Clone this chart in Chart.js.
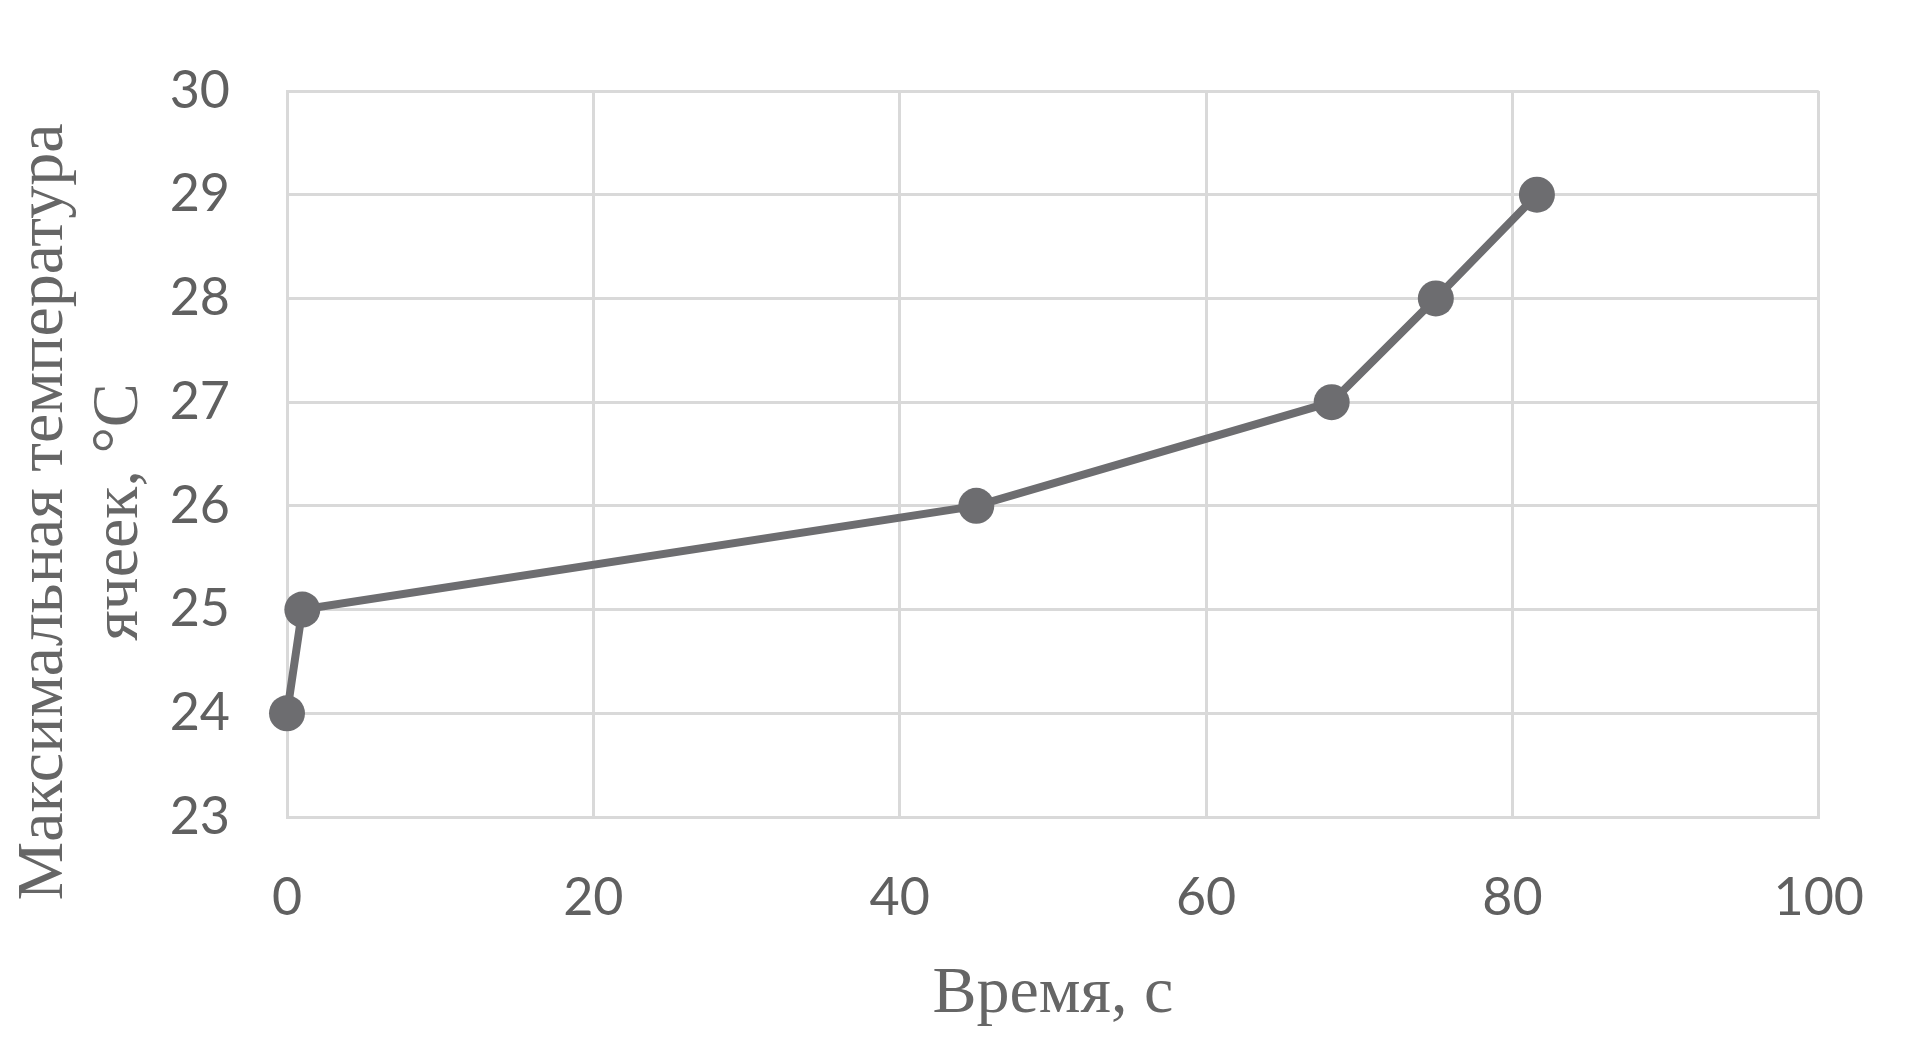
<!DOCTYPE html>
<html>
<head>
<meta charset="utf-8">
<script src="https://cdn.jsdelivr.net/npm/chart.js@4.4.1/dist/chart.umd.min.js"></script>
<style>
html,body{margin:0;padding:0;background:#fff;}
canvas{display:block;}
</style>
</head>
<body>
<canvas id="c" width="1914" height="1064"></canvas>
<script>
// Data
const timeSeconds = [0, 1, 45, 68.2, 75, 81.6];
const maxTemperature = [24, 25, 26, 27, 28, 29];
const xTicks = [0, 20, 40, 60, 80, 100];
const yTicks = [23, 24, 25, 26, 27, 28, 29, 30];
const xTitle = 'Время, с';
const yTitleLines = ['Максимальная температура', 'ячеек, °С'];

const points = timeSeconds.map((t, i) => ({x: t, y: maxTemperature[i]}));

const yTitlePlugin = {
  id: 'yTitle',
  afterDraw(chart) {
    const ctx = chart.ctx;
    ctx.save();
    ctx.fillStyle = '#666666';
    ctx.font = '66px "Liberation Serif", "Times New Roman", serif';
    ctx.textAlign = 'center';
    ctx.textBaseline = 'alphabetic';
    const baselines = [62, 137];
    yTitleLines.forEach((line, i) => {
      ctx.save();
      ctx.translate(baselines[i], 512);
      ctx.rotate(-Math.PI / 2);
      ctx.fillText(line, 0, 0);
      ctx.restore();
    });
    ctx.restore();
  }
};

new Chart(document.getElementById('c'), {
  type: 'scatter',
  data: {
    datasets: [{
      data: points,
      showLine: true,
      borderColor: '#6d6d70',
      backgroundColor: '#6d6d70',
      borderWidth: 8,
      pointRadius: 18,
      pointHoverRadius: 18,
      pointBorderWidth: 0,
      tension: 0,
      clip: false
    }]
  },
  options: {
    responsive: false,
    animation: false,
    devicePixelRatio: 1,
    layout: {padding: {left: 0, right: 88, top: 91, bottom: 0}},
    plugins: {legend: {display: false}, tooltip: {enabled: false}},
    scales: {
      x: {
        type: 'linear',
        min: xTicks[0],
        max: xTicks[xTicks.length - 1],
        afterBuildTicks: s => { s.ticks = xTicks.map(v => ({value: v})); },
        afterFit: s => { s.height = 247; },
        grid: {color: '#d9d9d9', lineWidth: 3, drawTicks: false},
        border: {display: true, color: '#d9d9d9', width: 3},
        ticks: {
          padding: 50,
          color: '#606060',
          font: {family: 'Lato', size: 52}
        },
        title: {
          display: true,
          text: xTitle,
          color: '#666666',
          font: {family: '"Liberation Serif", serif', size: 66},
          padding: {top: 0, bottom: 30}
        }
      },
      y: {
        type: 'linear',
        min: yTicks[0],
        max: yTicks[yTicks.length - 1],
        afterBuildTicks: s => { s.ticks = yTicks.map(v => ({value: v})); },
        afterFit: s => { s.width = 287; },
        grid: {color: '#d9d9d9', lineWidth: 3, drawTicks: false},
        border: {display: true, color: '#d9d9d9', width: 3},
        ticks: {
          padding: 57,
          color: '#606060',
          font: {family: 'Lato', size: 52}
        }
      }
    }
  },
  plugins: [yTitlePlugin]
});
</script>
</body>
</html>
